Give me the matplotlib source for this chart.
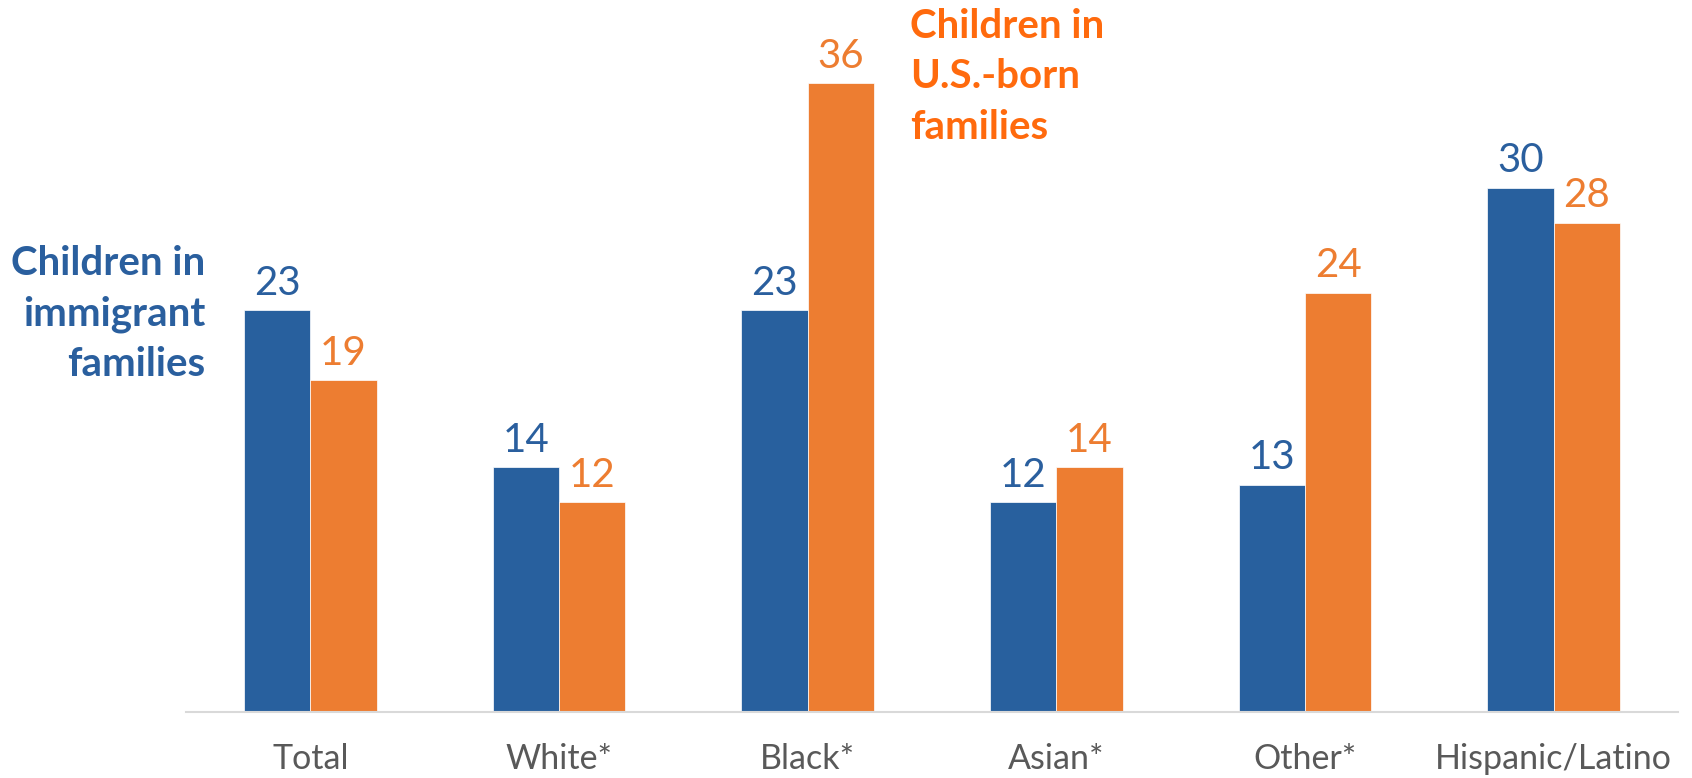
import matplotlib.pyplot as plt
import numpy as np

plt.rcParams['font.family'] = ['Lato', 'DejaVu Sans']

categories = ['Total', 'White*', 'Black*', 'Asian*', 'Other*', 'Hispanic/Latino']
immigrant = [23, 14, 23, 12, 13, 30]
us_born = [19, 12, 36, 14, 24, 28]

blue = '#28609E'
orange = '#ED7D31'

fig = plt.figure(figsize=(16.92, 7.78), dpi=100)
ax = fig.add_axes([186/1692, 1 - 712/778, (1678 - 186)/1692, 699/778])

x = np.arange(len(categories))
w = 0.267
b1 = ax.bar(x - w/2, immigrant, w, color=blue, edgecolor='white', linewidth=0.5)
b2 = ax.bar(x + w/2, us_born, w, color=orange, edgecolor='white', linewidth=0.5)

for rect, v in zip(b1, immigrant):
    ax.annotate(str(v), (rect.get_x() + rect.get_width()/2, v), xytext=(0, 6),
                textcoords='offset points', ha='center', va='bottom',
                fontsize=29, color='#2A5F9E')
for rect, v in zip(b2, us_born):
    ax.annotate(str(v), (rect.get_x() + rect.get_width()/2, v), xytext=(0, 6),
                textcoords='offset points', ha='center', va='bottom',
                fontsize=29, color=orange)

ax.set_xlim(-0.5, len(categories) - 0.5)
ax.set_ylim(0, 40)
ax.set_xticks(x)
ax.set_xticklabels(categories, fontsize=24.5, color='#595959')
ax.tick_params(axis='x', length=0, pad=22)
ax.set_yticks([])
for s in ['top', 'right', 'left']:
    ax.spines[s].set_visible(False)
ax.spines['bottom'].set_color('#D9D9D9')
ax.spines['bottom'].set_linewidth(1.5)

fig.text(205/1692, 1 - 245/778, 'Children in\nimmigrant\nfamilies', ha='right', va='top',
         fontsize=29, fontweight='bold', color='#2A5F9E', linespacing=1.45)
fig.text(910/1692, 1 - 8/778, 'Children in\nU.S.-born\nfamilies', ha='left', va='top',
         fontsize=29, fontweight='bold', color='#FF6A0D', linespacing=1.45)

fig.savefig('out.png', dpi=100)
